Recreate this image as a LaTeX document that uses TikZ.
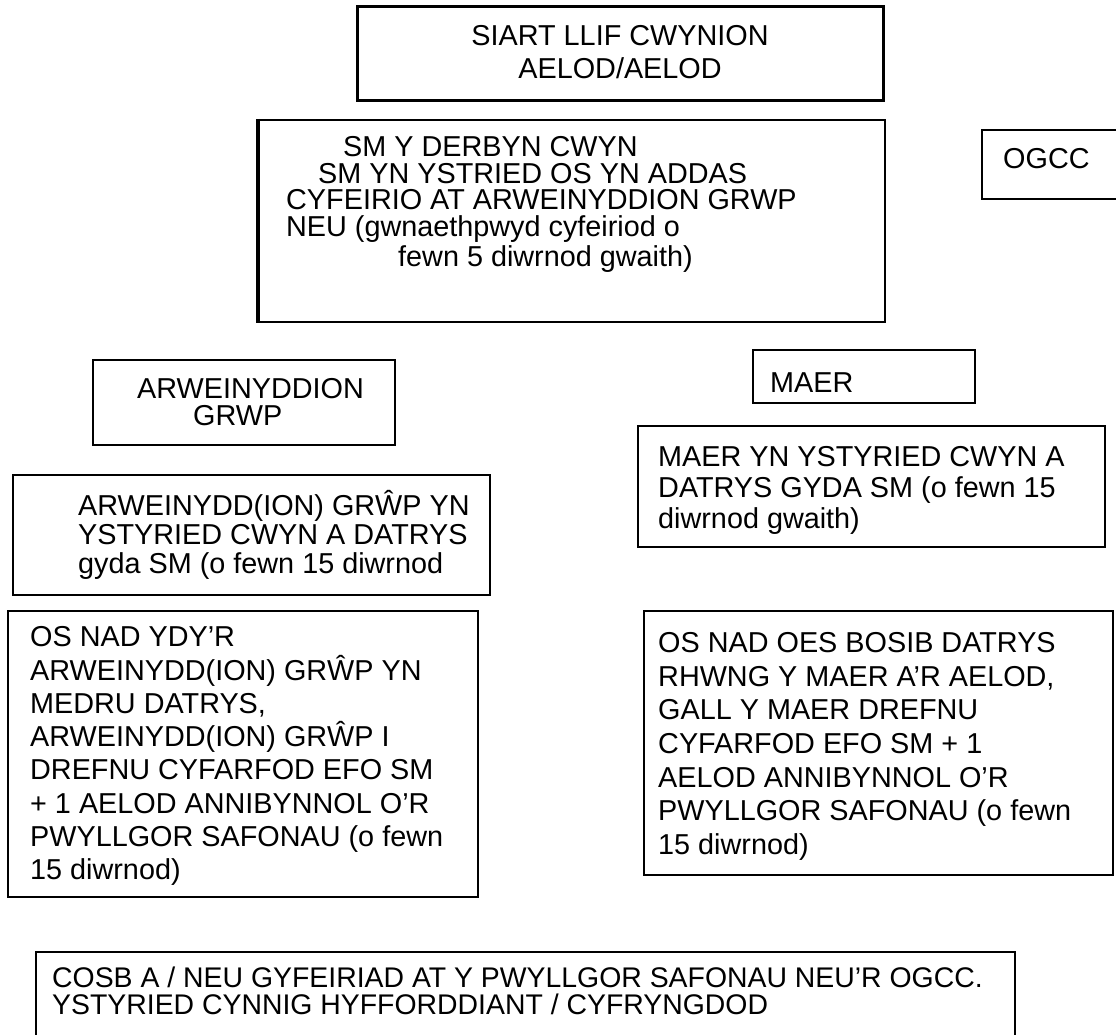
\documentclass[tikz,border=0pt]{standalone}
\usepackage{fontspec}
\setmainfont{Liberation Sans}

\tikzset{
	boxline/.style={line width=2.2pt, draw=black},
	words/.style={anchor=north west, inner sep=0pt, align=left},
}

\begin{document}
\begin{tikzpicture}[x=1pt, y=-1pt]
			%%%%% START %%%%%
			\useasboundingbox (0, 0) rectangle (1116, 1035);
			
			\draw[boxline, line width=3pt] (357, 7) rectangle (883, 101);
			\node[words, align=center, anchor=north, font=\fontsize{28.8}{33}\selectfont] (title) at (620, 25.4) {SIART LLIF CWYNION\\AELOD/AELOD};
			
			\draw[boxline] (258, 120) rectangle (885, 322);
			\draw[line width=4pt] (258, 119) -- (258, 323);
			\node[words, font=\fontsize{28.8}{26.5}\selectfont] (derbyn) at (286, 136.4) {\hspace*{57pt}SM Y DERBYN CWYN\\\hspace*{32pt}SM YN YSTRIED OS YN ADDAS\\CYFEIRIO AT ARWEINYDDION GRWP\\NEU (gwnaethpwyd cyfeiriod o\\[2pt]\hspace*{112pt}fewn 5 diwrnod gwaith)};
			
			\draw[boxline] (982, 130) rectangle (1130, 199);
			\node[words, font=\fontsize{28.8}{33}\selectfont] (ogcc) at (1003, 148.4) {OGCC};
			
			\draw[boxline] (93, 360) rectangle (395, 445);
			\node[words, font=\fontsize{28.8}{27}\selectfont] (arweinwyr) at (137, 378.4) {ARWEINYDDION\\\hspace*{56pt}GRWP};
			
			\draw[boxline] (13, 475) rectangle (490, 595);
			\node[words, font=\fontsize{28.8}{29}\selectfont] (grwp) at (78, 490.4) {ARWEINYDD(ION) GRŴP YN\\YSTYRIED CWYN A DATRYS\\gyda SM (o fewn 15 diwrnod};
			
			\draw[boxline] (753, 350) rectangle (975, 403);
			\node[words, font=\fontsize{28.8}{33}\selectfont] (maer) at (770, 372.4) {MAER};
			
			\draw[boxline] (638, 426) rectangle (1105, 547);
			\node[words, font=\fontsize{28.8}{31}\selectfont] (maercwyn) at (658, 446.4) {MAER YN YSTYRIED CWYN A\\DATRYS GYDA SM (o fewn 15\\diwrnod gwaith)};
			
			\draw[boxline] (8, 611) rectangle (478, 897);
			\node[words, font=\fontsize{28.8}{33.3}\selectfont] (grwpcyfarfod) at (30, 626.4) {OS NAD YDY’R\\ARWEINYDD(ION) GRŴP YN\\MEDRU DATRYS,\\ARWEINYDD(ION) GRŴP I\\DREFNU CYFARFOD EFO SM\\+ 1 AELOD ANNIBYNNOL O’R\\PWYLLGOR SAFONAU (o fewn\\15 diwrnod)};
			
			\draw[boxline] (644, 611) rectangle (1113, 875);
			\node[words, font=\fontsize{28.8}{33.6}\selectfont] (maercyfarfod) at (658, 632.4) {OS NAD OES BOSIB DATRYS\\RHWNG Y MAER A’R AELOD,\\GALL Y MAER DREFNU\\CYFARFOD EFO SM + 1\\AELOD ANNIBYNNOL O’R\\PWYLLGOR SAFONAU (o fewn\\15 diwrnod)};
			
			\draw[boxline] (36, 952) rectangle (1015, 1060);
			\node[words, font=\fontsize{28.4}{27}\selectfont] (cosb) at (52, 966.7) {COSB A / NEU GYFEIRIAD AT Y PWYLLGOR SAFONAU NEU’R OGCC.\\YSTYRIED CYNNIG HYFFORDDIANT / CYFRYNGDOD};
			
			%%%%% END %%%%%
\end{tikzpicture}
\end{document}
